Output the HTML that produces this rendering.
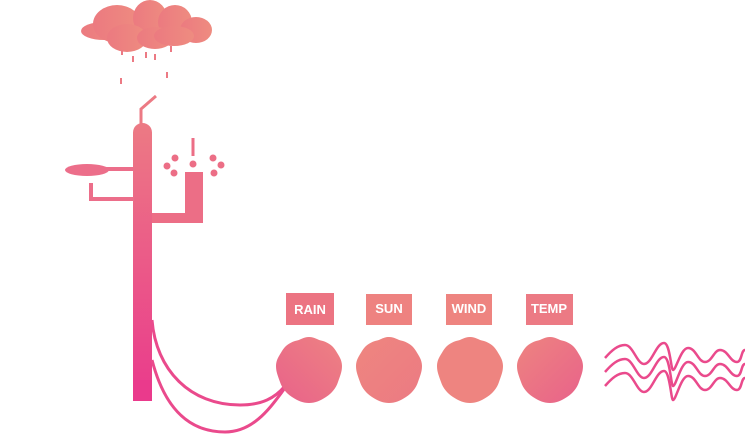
<!DOCTYPE html>
<html><head><meta charset="utf-8"><style>
html,body{margin:0;padding:0;background:#fff;}
svg{display:block}
text{font-family:"Liberation Sans",sans-serif;font-weight:bold;font-size:13px;fill:#fff}
</style></head><body>
<svg width="749" height="437" viewBox="0 0 749 437" xmlns="http://www.w3.org/2000/svg">
<defs>
<linearGradient id="pole" x1="0" y1="0" x2="0" y2="1">
<stop offset="0" stop-color="#ec7a84"/><stop offset="1" stop-color="#ea3a8c"/></linearGradient>
<linearGradient id="cl" x1="0" y1="0" x2="1" y2="0">
<stop offset="0" stop-color="#ec7a80"/><stop offset="1" stop-color="#ee8c80"/></linearGradient>
<linearGradient id="c1" x1="0" y1="1" x2="1" y2="0"><stop offset="0" stop-color="#e8628a"/><stop offset="1" stop-color="#ee8282"/></linearGradient>
<linearGradient id="c2" x1="0" y1="0" x2="1" y2="1"><stop offset="0" stop-color="#ee8680"/><stop offset="1" stop-color="#ec7a82"/></linearGradient>
<linearGradient id="c4" x1="0" y1="0" x2="1" y2="1"><stop offset="0" stop-color="#ee8480"/><stop offset="1" stop-color="#e8628a"/></linearGradient>
<g id="blob"><path d="M0,-33 C6,-33 8,-30 14,-29 C20,-27 24,-24 27,-19 C30,-14 33,-10 33,-4 C33,2 31,6 29,12 C27,18 23,23 17,27 C11,31 6,33 0,33 C-6,33 -11,31 -17,27 C-23,23 -27,18 -29,12 C-31,6 -33,2 -33,-4 C-33,-10 -30,-14 -27,-19 C-24,-24 -20,-27 -14,-29 C-8,-30 -6,-33 0,-33 Z"/></g>
</defs>
<!-- cloud -->
<g fill="url(#cl)">
<ellipse cx="104" cy="31" rx="23" ry="9"/>
<ellipse cx="117" cy="24" rx="24" ry="19"/>
<ellipse cx="150" cy="18" rx="17" ry="18"/>
<ellipse cx="175" cy="22" rx="17" ry="17"/>
<ellipse cx="196" cy="30" rx="16" ry="13"/>
<ellipse cx="127" cy="38" rx="20" ry="14"/>
<ellipse cx="155" cy="38" rx="18" ry="11"/>
<ellipse cx="174" cy="36" rx="20" ry="10"/>
</g>
<g stroke="#ec7a84" stroke-width="2">
<line x1="122" y1="50" x2="122" y2="55"/><line x1="133" y1="56" x2="133" y2="62"/>
<line x1="146" y1="52" x2="146" y2="58"/><line x1="155" y1="54" x2="155" y2="60"/>
<line x1="171" y1="46" x2="171" y2="52"/><line x1="121" y1="78" x2="121" y2="84"/>
<line x1="167" y1="72" x2="167" y2="78"/>
</g>
<!-- antenna -->
<path d="M141,125 L141,109 L156,96" fill="none" stroke="#ec7a84" stroke-width="3"/>
<!-- pole -->
<rect x="133" y="123" width="19" height="278" rx="9.5" fill="url(#pole)"/>
<rect x="133" y="380" width="19" height="21" fill="#ea3a8c"/>
<!-- paddle -->
<ellipse cx="87" cy="170" rx="22" ry="6" fill="#ec6e8a"/>
<rect x="100" y="167" width="34" height="4" fill="#ec6e8a"/>
<path d="M91,183 L91,199 L134,199" fill="none" stroke="#ec6e8a" stroke-width="4"/>
<!-- right U -->
<path d="M185,172 H203 V223 H152 V213 H185 Z" fill="#ec6e86"/>
<line x1="193" y1="138" x2="193" y2="156" stroke="#ec6e86" stroke-width="3"/>
<g fill="#ec6e86">
<circle cx="175" cy="158" r="3.5"/><circle cx="167" cy="166" r="3.5"/><circle cx="174" cy="173" r="3.5"/>
<circle cx="193" cy="164" r="3.5"/><circle cx="213" cy="158" r="3.5"/><circle cx="221" cy="165" r="3.5"/><circle cx="214" cy="173" r="3.5"/>
</g>
<!-- cables -->
<g fill="none" stroke="#ea4a8c" stroke-width="3">
<path d="M152,320 C156,370 190,405 240,405 C262,405 275,398 285,386"/>
<path d="M152,360 C165,410 190,432 225,432 C255,432 272,405 285,388"/>
</g>
<!-- labels -->
<rect x="286" y="293" width="48" height="32" fill="#ec7482"/><text x="310" y="314" text-anchor="middle">RAIN</text>
<rect x="366" y="294" width="46" height="31" fill="#ee8280"/><text x="389" y="313" text-anchor="middle">SUN</text>
<rect x="446" y="294" width="46" height="31" fill="#ee8480"/><text x="469" y="313" text-anchor="middle">WIND</text>
<rect x="526" y="294" width="47" height="31" fill="#ec7a84"/><text x="549" y="313" text-anchor="middle">TEMP</text>
<!-- blobs -->
<use href="#blob" transform="translate(309,370)" fill="url(#c1)"/>
<use href="#blob" transform="translate(389,370)" fill="url(#c2)"/>
<use href="#blob" transform="translate(470,370)" fill="#ee8480"/>
<use href="#blob" transform="translate(550,370)" fill="url(#c4)"/>
<!-- waves -->
<g fill="none" stroke="#ea4a8c" stroke-width="2.5">
<path id="w" d="M605,358 C612,350 618,345 625,345 C633,345 637,364 644,364 C652,364 656,343 664,343 C670,343 671,370 673,370 C676,370 681,348 688,348 C696,348 698,362 705,362 C712,362 714,350 720,350 C728,350 730,362 737,362 C742,362 741,350 745,350"/>
<path d="M605,372 C612,364 618,359 625,359 C633,359 637,378 644,378 C652,378 656,357 664,357 C670,357 671,386 673,386 C676,386 681,362 688,362 C696,362 698,376 705,376 C712,376 714,364 720,364 C728,364 730,376 737,376 C742,376 741,364 745,364"/>
<path d="M605,386 C612,378 618,373 625,373 C633,373 637,392 644,392 C652,392 656,371 664,371 C670,371 671,400 673,400 C676,400 681,376 688,376 C696,376 698,390 705,390 C712,390 714,378 720,378 C728,378 730,390 737,390 C742,390 741,378 745,378"/>
</g>
</svg>
</body></html>
